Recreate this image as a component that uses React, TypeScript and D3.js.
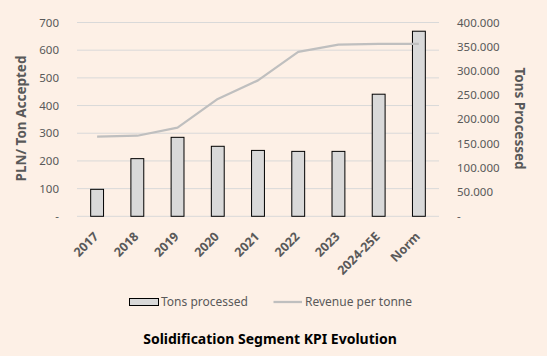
import React from "react";
import * as d3 from "d3";

const categories = ["2017", "2018", "2019", "2020", "2021", "2022", "2023", "2024-25E", "Norm"];
const tonsProcessed = [55700, 119000, 163000, 144500, 136000, 134000, 134000, 252000, 382000];
const revenuePerTonne = [288, 291, 320, 424, 491, 594, 620, 623, 623];
const leftTicks = [0, 100, 200, 300, 400, 500, 600, 700];
const rightTicks = [0, 50000, 100000, 150000, 200000, 250000, 300000, 350000, 400000];

const W = 547;
const H = 356;
const M = { left: 77, right: 108, top: 22.5, bottom: 139.7 };
const FONT = "'Noto Sans', 'Open Sans', sans-serif";
const GREY = "#595959";

const fmtRight = (v: number) => (v === 0 ? "-" : d3.format(",")(v).replace(/,/g, "."));
const fmtLeft = (v: number) => (v === 0 ? "-" : String(v));

export default function App() {
  const x = d3.scaleBand<string>().domain(categories).range([M.left, W - M.right]).paddingInner(0.68).paddingOuter(0.34);
  const yL = d3.scaleLinear().domain([0, 700]).range([H - M.bottom, M.top]);
  const yR = d3.scaleLinear().domain([0, 400000]).range([H - M.bottom, M.top]);
  const center = (c: string) => (x(c) as number) + x.bandwidth() / 2;
  const line = d3
    .line<number>()
    .x((_, i) => center(categories[i]))
    .y((d) => yL(d));

  return (
    <svg width={W} height={H} style={{ position: "fixed", left: 0, top: 0, background: "#FDF0E6" }} fontFamily={FONT}>
      <rect x={0} y={0} width={W} height={H} fill="#FDF0E6" />
      {leftTicks.map((t) => (
        <line key={t} x1={M.left} x2={W - M.right} y1={yL(t)} y2={yL(t)} stroke="#D9D9D9" strokeWidth={1} />
      ))}
      {leftTicks.map((t) => (
        <text key={"l" + t} x={59} y={yL(t)} dy="0.35em" textAnchor="end" fontSize={11.5} fill={GREY}>
          {fmtLeft(t)}
        </text>
      ))}
      {rightTicks.map((t) => (
        <text key={"r" + t} x={457} y={yR(t)} dy="0.35em" textAnchor="start" fontSize={11.5} fill={GREY}>
          {fmtRight(t)}
        </text>
      ))}
      {categories.map((c, i) => (
        <rect
          key={c}
          x={x(c)}
          y={yR(tonsProcessed[i])}
          width={x.bandwidth()}
          height={yR(0) - yR(tonsProcessed[i])}
          fill="#D9D9D9"
          stroke="#000"
          strokeWidth={1}
        />
      ))}
      <path d={line(revenuePerTonne) || ""} fill="none" stroke="#BFBFBF" strokeWidth={2.25} strokeLinejoin="round" />
      {categories.map((c) => (
        <text
          key={"x" + c}
          transform={`translate(${center(c) - 1},${yL(0) + 18}) rotate(-45)`}
          textAnchor="end"
          dy="0.35em"
          fontSize={12.5}
          fontWeight="bold"
          fill={GREY}
        >
          {c}
        </text>
      ))}
      <text transform={`translate(21,118.5) rotate(-90)`} textAnchor="middle" dy="0.35em" fontSize={13.5} fontWeight="bold" fill={GREY}>
        PLN/ Ton Accepted
      </text>
      <text transform={`translate(520,118.5) rotate(90)`} textAnchor="middle" dy="0.35em" fontSize={13.5} fontWeight="bold" fill={GREY}>
        Tons Processed
      </text>
      <rect x={129.5} y={298.5} width={29} height={7} fill="#D9D9D9" stroke="#000" strokeWidth={1} />
      <text x={161} y={302} dy="0.35em" fontSize={12} fill={GREY}>
        Tons processed
      </text>
      <line x1={273.5} x2={302} y1={302} y2={302} stroke="#BFBFBF" strokeWidth={2.25} />
      <text x={305} y={302} dy="0.35em" fontSize={12} fill={GREY}>
        Revenue per tonne
      </text>
      <text x={270} y={339.5} dy="0.35em" textAnchor="middle" fontSize={14} fontWeight="bold" fill="#000">
        Solidification Segment KPI Evolution
      </text>
    </svg>
  );
}
